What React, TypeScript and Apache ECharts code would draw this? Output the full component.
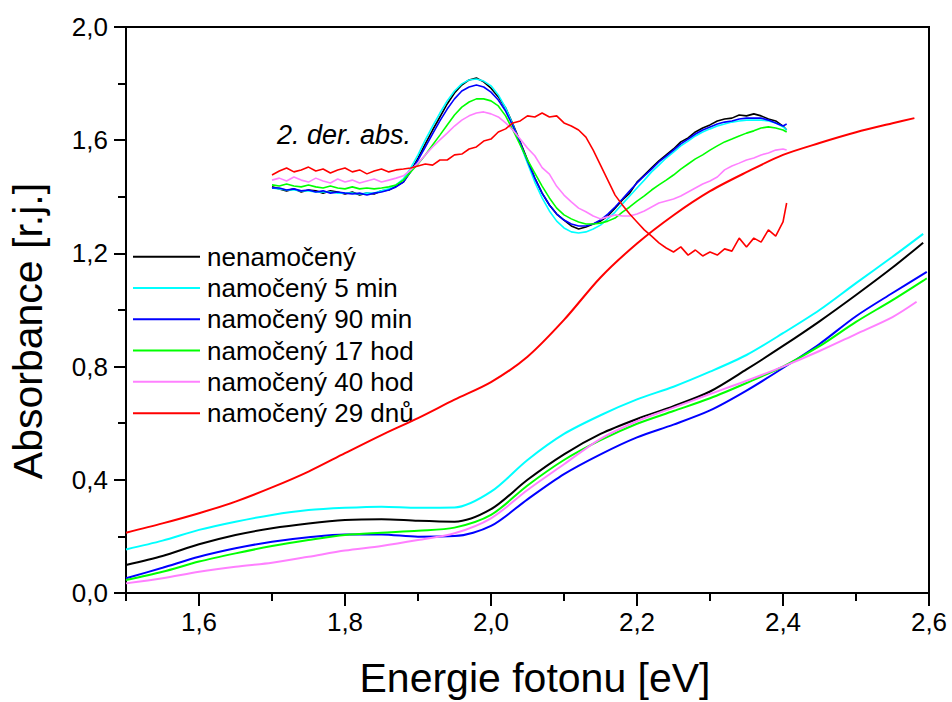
import { useEffect, useRef } from "react";
import * as echarts from "echarts";

const FONT = '"Liberation Sans", Arial, Helvetica, sans-serif';

const seriesNames = [
  "nenamočený",
  "namočený 5 min",
  "namočený 90 min",
  "namočený 17 hod",
  "namočený 40 hod",
  "namočený 29 dnů",
];
const seriesColors = ["#000000", "#00ffff", "#0000ff", "#00ff00", "#ff80ff", "#ff0000"];

// Absorbance spectra (energy in eV)
const absE = [1.5, 1.55, 1.6, 1.65, 1.7, 1.75, 1.8, 1.85, 1.9, 1.95, 2.0, 2.05, 2.1, 2.15, 2.2, 2.25, 2.3, 2.35, 2.4, 2.45, 2.5, 2.55];
const absEndE = [2.592, 2.592, 2.597, 2.597, 2.583, 2.58];

const blackAbs = [0.099, 0.131, 0.172, 0.205, 0.229, 0.246, 0.258, 0.261, 0.255, 0.252, 0.296, 0.4, 0.49, 0.562, 0.615, 0.66, 0.712, 0.79, 0.873, 0.96, 1.053, 1.15, 1.238];
const cyanAbs = [0.154, 0.185, 0.223, 0.252, 0.276, 0.293, 0.301, 0.305, 0.301, 0.302, 0.358, 0.47, 0.562, 0.628, 0.684, 0.729, 0.782, 0.841, 0.918, 1.0, 1.095, 1.188, 1.269];
const blueAbs = [0.052, 0.089, 0.128, 0.158, 0.181, 0.197, 0.207, 0.207, 0.199, 0.201, 0.237, 0.331, 0.42, 0.49, 0.55, 0.595, 0.645, 0.715, 0.795, 0.88, 0.978, 1.06, 1.135];
const greenAbs = [0.046, 0.075, 0.111, 0.14, 0.166, 0.187, 0.205, 0.213, 0.22, 0.231, 0.276, 0.38, 0.47, 0.54, 0.598, 0.643, 0.688, 0.742, 0.8, 0.872, 0.958, 1.035, 1.112];
const pinkAbs = [0.034, 0.052, 0.075, 0.093, 0.107, 0.128, 0.15, 0.166, 0.187, 0.211, 0.264, 0.364, 0.455, 0.545, 0.607, 0.655, 0.703, 0.75, 0.8, 0.855, 0.915, 0.975, 1.029];
const redAbs = [0.213, 0.246, 0.282, 0.323, 0.373, 0.429, 0.494, 0.558, 0.618, 0.683, 0.745, 0.835, 0.965, 1.115, 1.235, 1.335, 1.42, 1.487, 1.548, 1.59, 1.628, 1.66, 1.678];

// Second derivative curves (shifted, arbitrary units)
const derE = [
  1.7, 1.71, 1.72, 1.73, 1.74, 1.75, 1.76, 1.77, 1.78, 1.79,
  1.8, 1.81, 1.82, 1.83, 1.84, 1.85, 1.86, 1.87, 1.88, 1.89,
  1.9, 1.91, 1.92, 1.93, 1.94, 1.95, 1.96, 1.97, 1.98, 1.99,
  2.0, 2.01, 2.02, 2.03, 2.04, 2.05, 2.06, 2.07, 2.08, 2.09,
  2.1, 2.11, 2.12, 2.13, 2.14, 2.15, 2.16, 2.17, 2.18, 2.19,
  2.2, 2.21, 2.22, 2.23, 2.24, 2.25, 2.26, 2.27, 2.28, 2.29,
  2.3, 2.31, 2.32, 2.33, 2.34, 2.35, 2.36, 2.37, 2.38, 2.39,
  2.4, 2.405,
];
const blackDer = [
  1.435, 1.428, 1.421, 1.428, 1.417, 1.424, 1.421, 1.413, 1.421, 1.417,
  1.41, 1.417, 1.406, 1.413, 1.41, 1.421, 1.424, 1.438, 1.452, 1.491,
  1.537, 1.587, 1.636, 1.682, 1.728, 1.767, 1.795, 1.813, 1.82, 1.806,
  1.784, 1.753, 1.714, 1.657, 1.594, 1.53, 1.466, 1.413, 1.371, 1.339,
  1.318, 1.297, 1.286, 1.293, 1.304, 1.314, 1.332, 1.36, 1.389, 1.413,
  1.452, 1.477, 1.502, 1.527, 1.548, 1.569, 1.594, 1.608, 1.629, 1.643,
  1.654, 1.668, 1.675, 1.678, 1.689, 1.686, 1.693, 1.686, 1.675, 1.668,
  1.65, 1.636,
];
const cyanDer = [
  1.431, 1.428, 1.424, 1.424, 1.421, 1.421, 1.417, 1.417, 1.417, 1.413,
  1.413, 1.413, 1.41, 1.413, 1.413, 1.421, 1.428, 1.442, 1.463, 1.502,
  1.548, 1.601, 1.65, 1.696, 1.739, 1.774, 1.799, 1.813, 1.816, 1.809,
  1.792, 1.76, 1.714, 1.654, 1.587, 1.519, 1.452, 1.396, 1.35, 1.314,
  1.29, 1.276, 1.272, 1.276, 1.286, 1.3, 1.322, 1.346, 1.375, 1.403,
  1.431, 1.459, 1.488, 1.512, 1.537, 1.558, 1.58, 1.597, 1.615, 1.629,
  1.64, 1.65, 1.657, 1.664, 1.668, 1.671, 1.671, 1.671, 1.668, 1.661,
  1.647, 1.636,
];
const blueDer = [
  1.431, 1.431, 1.424, 1.428, 1.421, 1.424, 1.417, 1.421, 1.413, 1.417,
  1.413, 1.41, 1.413, 1.406, 1.413, 1.417, 1.424, 1.435, 1.452, 1.488,
  1.53, 1.576, 1.622, 1.668, 1.71, 1.746, 1.774, 1.788, 1.795, 1.788,
  1.77, 1.742, 1.703, 1.65, 1.59, 1.527, 1.466, 1.413, 1.371, 1.339,
  1.318, 1.304, 1.297, 1.297, 1.304, 1.318, 1.339, 1.364, 1.392, 1.421,
  1.449, 1.474, 1.498, 1.523, 1.544, 1.565, 1.587, 1.604, 1.622, 1.636,
  1.647, 1.657, 1.664, 1.668, 1.675, 1.678, 1.678, 1.678, 1.671, 1.661,
  1.65, 1.657,
];
const greenDer = [
  1.442, 1.438, 1.445, 1.438, 1.435, 1.442, 1.435, 1.431, 1.438, 1.431,
  1.428, 1.435, 1.428, 1.431, 1.428, 1.431, 1.435, 1.442, 1.459, 1.488,
  1.516, 1.548, 1.583, 1.618, 1.654, 1.689, 1.717, 1.735, 1.746, 1.746,
  1.739, 1.721, 1.686, 1.636, 1.583, 1.53, 1.484, 1.438, 1.396, 1.36,
  1.336, 1.322, 1.311, 1.304, 1.304, 1.307, 1.314, 1.325, 1.346, 1.364,
  1.385, 1.403, 1.424, 1.442, 1.459, 1.477, 1.498, 1.516, 1.534, 1.548,
  1.565, 1.58, 1.594, 1.604, 1.615, 1.625, 1.633, 1.643, 1.647, 1.643,
  1.636, 1.629,
];
const pinkDer = [
  1.459, 1.466, 1.456, 1.47, 1.459, 1.452, 1.466, 1.456, 1.449, 1.463,
  1.452, 1.459, 1.449, 1.456, 1.463, 1.452, 1.459, 1.466, 1.474, 1.495,
  1.519, 1.548, 1.576, 1.601, 1.625, 1.65, 1.671, 1.686, 1.696, 1.7,
  1.693, 1.682, 1.661, 1.636, 1.604, 1.572, 1.545, 1.503, 1.48, 1.437,
  1.406, 1.382, 1.36, 1.347, 1.332, 1.322, 1.329, 1.336, 1.332, 1.332,
  1.339, 1.35, 1.364, 1.378, 1.385, 1.392, 1.403, 1.417, 1.431, 1.445,
  1.456, 1.47, 1.495, 1.509, 1.519, 1.53, 1.537, 1.548, 1.555, 1.565,
  1.569, 1.565,
];
const redDer = [
  1.477, 1.491, 1.502, 1.488, 1.495, 1.505, 1.491, 1.498, 1.484, 1.495,
  1.502, 1.488, 1.495, 1.481, 1.491, 1.498, 1.488, 1.495, 1.498, 1.502,
  1.509, 1.516, 1.512, 1.53, 1.53, 1.548, 1.551, 1.569, 1.576, 1.597,
  1.604, 1.629, 1.64, 1.661, 1.668, 1.686, 1.682, 1.696, 1.682, 1.686,
  1.661, 1.65, 1.636, 1.611, 1.565, 1.512, 1.459, 1.406, 1.371, 1.339,
  1.311, 1.283, 1.261, 1.237, 1.219, 1.205, 1.223, 1.194, 1.212, 1.191,
  1.205, 1.194, 1.216, 1.208, 1.254, 1.223, 1.254, 1.24, 1.283, 1.261,
  1.311, 1.378,
];

const absValues = [blackAbs, cyanAbs, blueAbs, greenAbs, pinkAbs, redAbs];
const derValues = [blackDer, cyanDer, blueDer, greenDer, pinkDer, redDer];

const xTitle = "Energie fotonu [eV]";
const yTitle = "Absorbance [r.j.]";
const derLabel = "2. der. abs.";

const fmt = (v: number) => v.toFixed(1).replace(".", ",");

export default function App() {
  const ref = useRef<HTMLDivElement>(null);

  useEffect(() => {
    if (!ref.current) return;
    const chart = echarts.init(ref.current, undefined, { renderer: "svg" });

    const series: any[] = [];
    seriesNames.forEach((name, i) => {
      const vals = absValues[i];
      const data = absE.map((e, k) => [e, vals[k]]);
      data.push([absEndE[i], vals[vals.length - 1]]);
      series.push({
        name,
        type: "line",
        xAxisIndex: 0,
        yAxisIndex: 0,
        data,
        symbol: "none",
        smooth: 0.3,
        lineStyle: { color: seriesColors[i], width: 2 },
        itemStyle: { color: seriesColors[i] },
        z: 2 + i,
      });
    });
    seriesNames.forEach((name, i) => {
      series.push({
        name,
        type: "line",
        xAxisIndex: 0,
        yAxisIndex: 0,
        data: derE.map((e, k) => [e, derValues[i][k]]),
        symbol: "none",
        lineStyle: { color: seriesColors[i], width: 1.6 },
        itemStyle: { color: seriesColors[i] },
        z: 2 + i,
      });
    });

    const option: any = {
      animation: false,
      backgroundColor: "#ffffff",
      textStyle: { fontFamily: FONT },
      grid: [
        { left: 126, right: 23, top: 27, bottom: 109, show: true, borderColor: "#000", borderWidth: 2, backgroundColor: "transparent" },
        { left: 199, right: 23, top: 27, bottom: 109, show: false },
      ],
      xAxis: [
        {
          gridIndex: 0,
          type: "value",
          min: 1.5,
          max: 2.6,
          interval: 0.1,
          axisLine: { show: true, onZero: false, lineStyle: { color: "#000", width: 2 } },
          axisTick: { show: true, length: 8, lineStyle: { color: "#000", width: 2 } },
          axisLabel: { show: false },
          splitLine: { show: false },
        },
        {
          gridIndex: 1,
          type: "value",
          min: 1.6,
          max: 2.6,
          interval: 0.2,
          axisLine: { show: false },
          axisTick: { show: true, length: 13, lineStyle: { color: "#000", width: 2 } },
          axisLabel: { formatter: fmt, fontSize: 26, fontFamily: FONT, color: "#000", margin: 16 },
          splitLine: { show: false },
        },
      ],
      yAxis: [
        {
          gridIndex: 0,
          type: "value",
          min: 0,
          max: 2,
          interval: 0.4,
          axisLine: { show: true, onZero: false, lineStyle: { color: "#000", width: 2 } },
          axisTick: { show: true, length: 12, lineStyle: { color: "#000", width: 2 } },
          minorTick: { show: true, splitNumber: 2, length: 8, lineStyle: { color: "#000", width: 2 } },
          axisLabel: { formatter: fmt, fontSize: 26, fontFamily: FONT, color: "#000", margin: 18 },
          splitLine: { show: false },
          minorSplitLine: { show: false },
        },
        { gridIndex: 1, type: "value", min: 0, max: 2, show: false },
      ],
      legend: {
        orient: "vertical",
        left: 133,
        top: 241,
        padding: 0,
        icon: "rect",
        itemWidth: 67,
        itemHeight: 2,
        itemGap: 0,
        selectedMode: false,
        data: seriesNames,
        textStyle: { fontSize: 26, fontFamily: FONT, color: "#000", lineHeight: 31.3, padding: [0, 0, 0, 2] },
      },
      graphic: [
        {
          type: "text",
          x: 277,
          y: 135,
          style: { text: derLabel, fontSize: 27, fontStyle: "italic", fontFamily: FONT, fill: "#000", align: "left", verticalAlign: "middle" },
        },
        {
          type: "text",
          x: 535,
          y: 678,
          style: { text: xTitle, fontSize: 41, fontFamily: FONT, fill: "#000", align: "center", verticalAlign: "middle" },
        },
        {
          type: "text",
          x: 28,
          y: 331,
          rotation: Math.PI / 2,
          style: { text: yTitle, fontSize: 41, fontFamily: FONT, fill: "#000", align: "center", verticalAlign: "middle" },
        },
      ],
      series,
    };

    chart.setOption(option);
    return () => chart.dispose();
  }, []);

  return (
    <div
      ref={ref}
      style={{ position: "fixed", left: 0, top: 0, width: 952, height: 702, background: "#fff" }}
    />
  );
}
